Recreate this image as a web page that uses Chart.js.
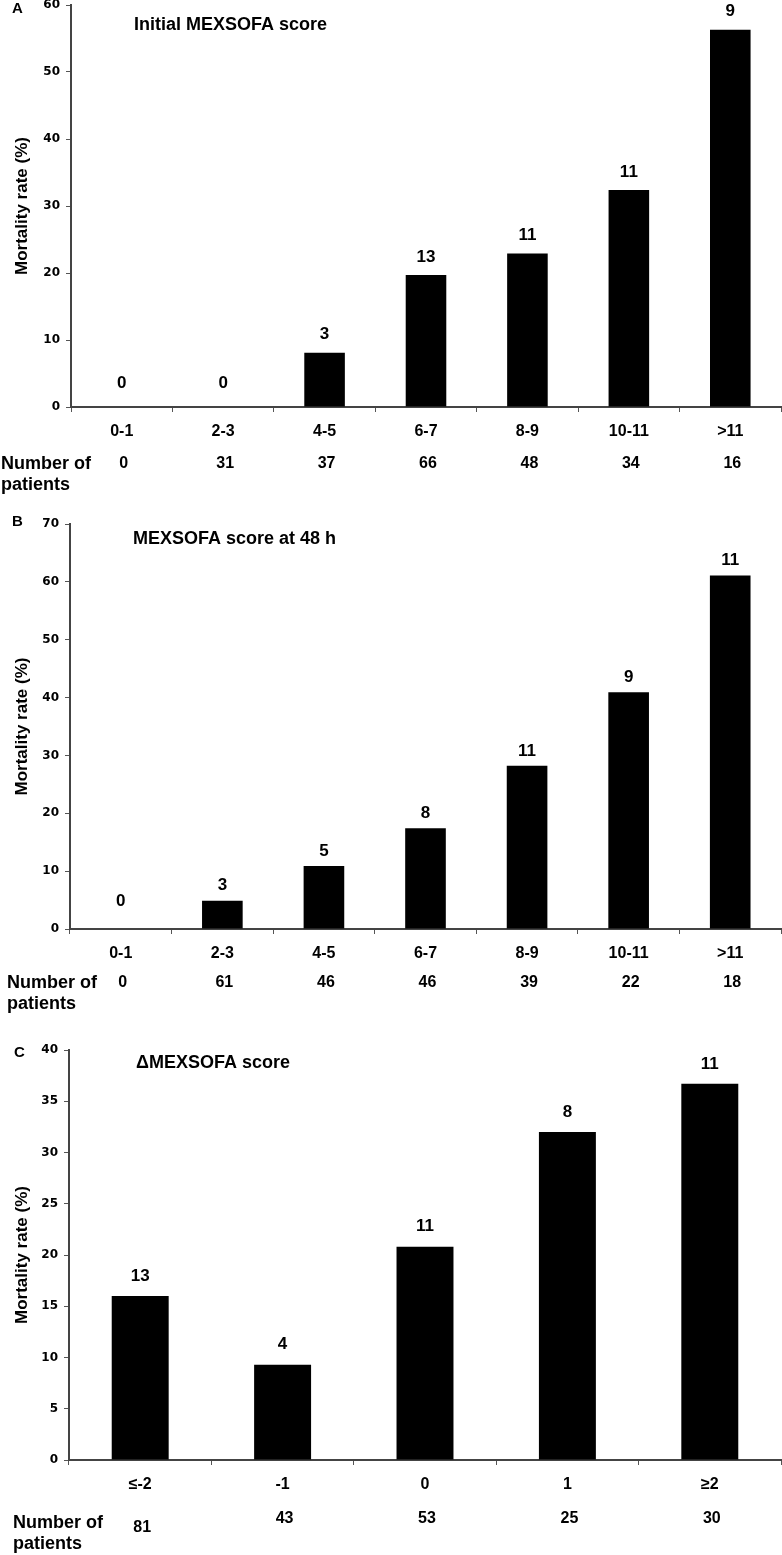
<!DOCTYPE html>
<html>
<head>
<meta charset="utf-8">
<script src="https://cdn.jsdelivr.net/npm/chart.js@4.4.1/dist/chart.umd.min.js"></script>
<style>
  body { margin: 0; background: #fff; }
  #wrap { position: relative; width: 782px; height: 1555px; overflow: hidden; background: #fff; }
  canvas { position: absolute; left: 0; }
</style>
</head>
<body>
<div id="wrap">
  <canvas id="chartA" width="782" height="520" style="top:-10px"></canvas>
  <canvas id="chartB" width="782" height="520" style="top:509px"></canvas>
  <canvas id="chartC" width="782" height="520" style="top:1035px"></canvas>
</div>
<script>
// panel A / B: score groups
const scoreCats = ['0-1', '2-3', '4-5', '6-7', '8-9', '10-11', '>11'];
const initialRate = [0, 0, 8.1, 19.7, 22.9, 32.4, 56.3];
const initialDeaths = [0, 0, 3, 13, 11, 11, 9];
const initialPatients = [0, 31, 37, 66, 48, 34, 16];

const rate48h = [0, 4.9, 10.9, 17.4, 28.2, 40.9, 61.1];
const deaths48h = [0, 3, 5, 8, 11, 9, 11];
const patients48h = [0, 61, 46, 46, 39, 22, 18];

// panel C: change in score
const deltaCats = ['≤-2', '-1', '0', '1', '≥2'];
const deltaRate = [16.0, 9.3, 20.8, 32.0, 36.7];
const deltaDeaths = [13, 4, 11, 8, 11];
const deltaPatients = [81, 43, 53, 25, 30];

// y axis ranges
const yMaxA = 60, yStepA = 10;
const yMaxB = 70, yStepB = 10;
const yMaxC = 40, yStepC = 5;

const ARIAL = '"Liberation Sans", Arial, sans-serif';

const extras = {
  id: 'extras',
  afterDraw(chart) {
    const o = chart.options.plugins.extras;
    const { ctx, chartArea: a } = chart;
    const xs = chart.scales.x;
    const meta = chart.getDatasetMeta(0);
    const vals = chart.data.datasets[0].data;
    ctx.save();
    ctx.fillStyle = '#000';
    ctx.textBaseline = 'middle';

    ctx.textAlign = 'left';
    ctx.font = 'bold 15px ' + ARIAL;
    ctx.fillText(o.letter, o.letterX, a.top + o.letterDy);
    ctx.font = 'bold 18px ' + ARIAL;
    ctx.fillText(o.title, o.titleX, a.top + o.titleDy);

    // deaths above bars
    ctx.textAlign = 'center';
    ctx.font = 'bold 17px ' + ARIAL;
    meta.data.forEach((bar, i) => {
      const lift = vals[i] === 0 ? o.zeroGap : o.labelGap;
      ctx.fillText(String(o.deaths[i]), bar.x, bar.y - lift);
    });

    // number of patients row
    ctx.font = 'bold 16px ' + ARIAL;
    o.counts.forEach((n, i) => {
      const dy = i === 0 ? o.firstCountShift : 0;
      ctx.fillText(String(n), xs.getPixelForValue(i) + 2, a.bottom + o.countDy + dy);
    });
    ctx.textAlign = 'left';
    ctx.font = 'bold 18px ' + ARIAL;
    ctx.fillText('Number of', o.rowX, a.bottom + o.rowDy);
    ctx.fillText('patients', o.rowX, a.bottom + o.rowDy + 21);
    ctx.restore();
  }
};

function panel(id, cats, rates, yMax, yStep, left, xHeight, extra) {
  return new Chart(document.getElementById(id), {
    type: 'bar',
    data: {
      labels: cats,
      datasets: [{
        data: rates,
        backgroundColor: '#000',
        borderWidth: 0,
        categoryPercentage: 1,
        barPercentage: 0.4
      }]
    },
    options: {
      responsive: false,
      animation: false,
      layout: { padding: { top: 15, right: 1, left: 0, bottom: 0 } },
      plugins: { legend: { display: false }, tooltip: { enabled: false }, extras: extra },
      scales: {
        x: {
          grid: { drawOnChartArea: false, drawTicks: true, tickLength: 5, color: '#555', offset: true },
          border: { display: true, color: '#444', width: 2 },
          ticks: { color: '#000', font: { family: ARIAL, size: 16, weight: 'bold' }, padding: 10, maxRotation: 0 },
          afterFit: s => { s.height = xHeight; }
        },
        y: {
          min: 0,
          max: yMax,
          ticks: { stepSize: yStep, color: '#000', padding: 6, font: { family: '"DejaVu Sans", sans-serif', size: 12, weight: 'bold' } },
          grid: { drawOnChartArea: false, drawTicks: true, tickLength: 5, color: '#555' },
          border: { display: true, color: '#444', width: 2 },
          title: {
            display: true,
            text: 'Mortality rate (%)',
            color: '#000',
            font: { family: ARIAL, size: 17, weight: 'bold' },
            padding: { top: 12, bottom: 0 }
          },
          afterFit: s => { s.width = left; }
        }
      }
    },
    plugins: [extras]
  });
}

panel('chartA', scoreCats, initialRate, yMaxA, yStepA, 71, 103, {
  letter: 'A', letterX: 12, letterDy: 4,
  title: 'Initial MEXSOFA score', titleX: 134, titleDy: 20,
  deaths: initialDeaths, counts: initialPatients,
  labelGap: 18, zeroGap: 24, countDy: 57, firstCountShift: 0, rowX: 1, rowDy: 57
});

panel('chartB', scoreCats, rate48h, yMaxB, yStepB, 70, 100, {
  letter: 'B', letterX: 12, letterDy: -2,
  title: 'MEXSOFA score at 48 h', titleX: 133, titleDy: 15,
  deaths: deaths48h, counts: patients48h,
  labelGap: 15, zeroGap: 28, countDy: 54, firstCountShift: 0, rowX: 7, rowDy: 54
});

panel('chartC', deltaCats, deltaRate, yMaxC, yStepC, 69, 95, {
  letter: 'C', letterX: 14, letterDy: 3,
  title: 'ΔMEXSOFA score', titleX: 136, titleDy: 13,
  deaths: deltaDeaths, counts: deltaPatients,
  labelGap: 20, zeroGap: 24, countDy: 59, firstCountShift: 9, rowX: 13, rowDy: 63
});
</script>
</body>
</html>
